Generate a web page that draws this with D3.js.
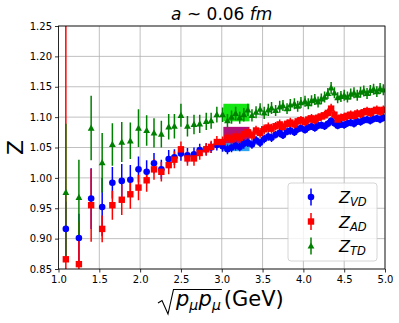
<!DOCTYPE html>
<html>
<head>
<meta charset="utf-8">
<script src="https://cdn.jsdelivr.net/npm/d3@7"></script>
<style>
  body { margin: 0; background: #fff; }
  text { font-family: "DejaVu Sans", sans-serif; }
</style>
</head>
<body>
<div class="chart"></div>
<script>
// Momentum values sqrt(p_mu p_mu) in GeV
var momenta = [1.09, 1.25, 1.40, 1.535, 1.66, 1.775, 1.88, 1.98, 2.08, 2.17, 2.26, 2.35, 2.42, 2.50, 2.58, 2.66, 2.73, 2.81, 2.87, 2.94, 3.01, 3.07,
  3.12, 3.17, 3.22, 3.27, 3.32, 3.37, 3.42, 3.47, 3.52, 3.57,
  3.61, 3.66, 3.71, 3.75, 3.80, 3.84, 3.89, 3.93, 3.97, 4.02,
  4.06, 4.10, 4.14, 4.18, 4.22, 4.26, 4.30, 4.34, 4.38, 4.42,
  4.46, 4.50, 4.54, 4.58, 4.62, 4.66, 4.70, 4.74, 4.78, 4.82,
  4.86, 4.90, 4.94, 4.98];

var zVD = [0.916, 0.901, 0.966, 0.952, 0.992, 0.995, 0.997, 1.014, 1.010, 1.024, 1.014, 1.031, 1.034, 1.040, 1.037, 1.039, 1.046, 1.047, 1.050, 1.054, 1.052, 1.047,
  1.050, 1.053, 1.051, 1.056, 1.058, 1.055, 1.062, 1.058, 1.064, 1.068,
  1.066, 1.071, 1.074, 1.070, 1.076, 1.078, 1.075, 1.080, 1.082, 1.079,
  1.083, 1.085, 1.082, 1.086, 1.087, 1.085, 1.089, 1.094, 1.090, 1.086,
  1.088, 1.087, 1.090, 1.091, 1.089, 1.093, 1.092, 1.095, 1.096, 1.094,
  1.097, 1.098, 1.096, 1.099];
var zVDerr = [0.045, 0.040, 0.050, 0.048, 0.026, 0.028, 0.024, 0.021, 0.019, 0.017, 0.016, 0.015, 0.013, 0.012, 0.012, 0.011, 0.010, 0.010, 0.009, 0.009, 0.009, 0.008,
  0.008, 0.008, 0.007, 0.008, 0.007, 0.007, 0.007, 0.007, 0.007, 0.007,
  0.007, 0.006, 0.007, 0.006, 0.006, 0.007, 0.006, 0.006, 0.006, 0.006,
  0.006, 0.006, 0.006, 0.006, 0.006, 0.006, 0.006, 0.006, 0.006, 0.006,
  0.006, 0.006, 0.006, 0.006, 0.006, 0.006, 0.006, 0.006, 0.006, 0.006,
  0.006, 0.006, 0.006, 0.006];

var zAD = [0.866, 0.858, 0.955, 0.916, 0.955, 0.964, 0.973, 0.984, 0.996, 1.014, 1.010, 1.021, 1.030, 1.047, 1.032, 1.032, 1.041, 1.047, 1.051, 1.059, 1.059, 1.066,
  1.064, 1.068, 1.066, 1.072, 1.075, 1.070, 1.078, 1.074, 1.080, 1.083,
  1.081, 1.085, 1.088, 1.084, 1.089, 1.091, 1.088, 1.093, 1.095, 1.092,
  1.096, 1.098, 1.095, 1.099, 1.101, 1.103, 1.107, 1.114, 1.104, 1.096,
  1.099, 1.100, 1.102, 1.104, 1.102, 1.106, 1.105, 1.108, 1.110, 1.107,
  1.110, 1.112, 1.109, 1.112];
var zADerr = [0.400, 0.070, 0.060, 0.022, 0.024, 0.025, 0.024, 0.021, 0.019, 0.017, 0.016, 0.015, 0.014, 0.013, 0.012, 0.012, 0.011, 0.010, 0.010, 0.010, 0.009, 0.009,
  0.009, 0.009, 0.008, 0.009, 0.008, 0.008, 0.008, 0.008, 0.008, 0.008,
  0.008, 0.007, 0.008, 0.007, 0.007, 0.008, 0.007, 0.007, 0.007, 0.007,
  0.007, 0.007, 0.007, 0.007, 0.007, 0.007, 0.007, 0.008, 0.007, 0.007,
  0.007, 0.007, 0.007, 0.007, 0.007, 0.007, 0.007, 0.007, 0.007, 0.007,
  0.007, 0.007, 0.007, 0.007];

var zTD = [0.976, 0.968, 1.082, 1.025, 1.055, 1.059, 1.061, 1.082, 1.078, 1.074, 1.072, 1.084, 1.085, 1.103, 1.085, 1.088, 1.089, 1.093, 1.094, 1.104, 1.104, 1.094,
  1.100, 1.106, 1.099, 1.104, 1.112, 1.103, 1.108, 1.113, 1.107, 1.112,
  1.115, 1.111, 1.117, 1.119, 1.114, 1.120, 1.122, 1.118, 1.124, 1.126,
  1.122, 1.127, 1.129, 1.125, 1.130, 1.133, 1.139, 1.148, 1.140, 1.132,
  1.134, 1.136, 1.133, 1.138, 1.140, 1.136, 1.141, 1.143, 1.139, 1.144,
  1.146, 1.142, 1.147, 1.145];
var zTDerr = [0.113, 0.062, 0.053, 0.049, 0.035, 0.033, 0.030, 0.031, 0.025, 0.024, 0.022, 0.021, 0.020, 0.019, 0.017, 0.016, 0.015, 0.014, 0.013, 0.013, 0.012, 0.011,
  0.011, 0.011, 0.010, 0.011, 0.010, 0.010, 0.010, 0.010, 0.010, 0.010,
  0.010, 0.009, 0.010, 0.009, 0.009, 0.010, 0.009, 0.009, 0.009, 0.009,
  0.009, 0.009, 0.009, 0.009, 0.009, 0.009, 0.009, 0.010, 0.009, 0.009,
  0.009, 0.009, 0.009, 0.009, 0.009, 0.009, 0.009, 0.009, 0.009, 0.009,
  0.009, 0.009, 0.009, 0.009];

// fit window bands (x range, then low/high per Z)
var bandX = [3.02, 3.34];
var bandVD = [1.044, 1.062];
var bandAD = [1.057, 1.084];
var bandTD = [1.093, 1.122];

var xTicks = [1.0, 1.5, 2.0, 2.5, 3.0, 3.5, 4.0, 4.5, 5.0];
var yTicks = [0.85, 0.90, 0.95, 1.00, 1.05, 1.10, 1.15, 1.20, 1.25];
var legendLabels = ["VD", "AD", "TD"];

var svgWidth = 399;
var svgHeight = 323;
var plot = { left: 58.5, right: 385, top: 26, bottom: 269 };

var svg = d3.select(".chart")
  .append("svg")
  .attr("width", svgWidth)
  .attr("height", svgHeight);

var x = d3.scaleLinear().domain([1.0, 5.0]).range([plot.left, plot.right]);
var y = d3.scaleLinear().domain([0.85, 1.25]).range([plot.bottom, plot.top]);

svg.append("clipPath").attr("id", "clip")
  .append("rect")
  .attr("x", plot.left).attr("y", plot.top)
  .attr("width", plot.right - plot.left).attr("height", plot.bottom - plot.top);

// grid
var grid = svg.append("g").attr("stroke", "#b0b0b0").attr("stroke-width", 0.8);
xTicks.forEach(t => grid.append("line")
  .attr("x1", x(t)).attr("x2", x(t)).attr("y1", plot.top).attr("y2", plot.bottom));
yTicks.forEach(t => grid.append("line")
  .attr("x1", plot.left).attr("x2", plot.right).attr("y1", y(t)).attr("y2", y(t)));

var inner = svg.append("g").attr("clip-path", "url(#clip)");

// bands
function band(yr, color) {
  inner.append("rect")
    .attr("x", x(bandX[0])).attr("width", x(bandX[1]) - x(bandX[0]))
    .attr("y", y(yr[1])).attr("height", y(yr[0]) - y(yr[1]))
    .attr("fill", color);
}
band(bandVD, "#2ea6ee");
band(bandAD, "#b0107c");
band(bandTD, "#14e614");

var series = [
  { vals: zVD, errs: zVDerr, color: "#0000ff", shape: "circle" },
  { vals: zAD, errs: zADerr, color: "#ff0000", shape: "square" },
  { vals: zTD, errs: zTDerr, color: "#008000", shape: "triangle" }
];

// error bars first (under all markers)
series.forEach(s => {
  inner.append("g").selectAll("line")
    .data(momenta)
    .enter()
    .append("line")
    .attr("x1", d => x(d)).attr("x2", d => x(d))
    .attr("y1", (d, i) => y(s.vals[i] - s.errs[i]))
    .attr("y2", (d, i) => y(s.vals[i] + s.errs[i]))
    .attr("stroke", s.color)
    .attr("stroke-width", 1.5);
});

function marker(g, shape, cx, cy, color) {
  if (shape === "circle") {
    g.append("circle").attr("cx", cx).attr("cy", cy).attr("r", 3.3).attr("fill", color);
  } else if (shape === "square") {
    g.append("rect").attr("x", cx - 3.2).attr("y", cy - 3.2).attr("width", 6.4).attr("height", 6.4).attr("fill", color);
  } else {
    g.append("path").attr("d", `M${cx},${cy - 3.6}L${cx + 3.4},${cy + 2.6}L${cx - 3.4},${cy + 2.6}Z`).attr("fill", color);
  }
}

series.forEach(s => {
  var g = inner.append("g");
  momenta.forEach((d, i) => marker(g, s.shape, x(d), y(s.vals[i]), s.color));
});

// frame
svg.append("rect")
  .attr("x", plot.left).attr("y", plot.top)
  .attr("width", plot.right - plot.left).attr("height", plot.bottom - plot.top)
  .attr("fill", "none").attr("stroke", "#000").attr("stroke-width", 0.8);

// axes
var xAxis = d3.axisBottom(x).tickValues(xTicks).tickFormat(d3.format(".1f")).tickSize(3.5).tickPadding(3);
var yAxis = d3.axisLeft(y).tickValues(yTicks).tickFormat(d3.format(".2f")).tickSize(3.5).tickPadding(3);
var gx = svg.append("g").attr("transform", `translate(0, ${plot.bottom})`).call(xAxis);
var gy = svg.append("g").attr("transform", `translate(${plot.left}, 0)`).call(yAxis);
[gx, gy].forEach(g => {
  g.select(".domain").remove();
  g.selectAll("text").attr("font-family", "DejaVu Sans").attr("font-size", "10px").attr("fill", "#000");
  g.selectAll("line").attr("stroke", "#000").attr("stroke-width", 0.8);
});

// title
var title = svg.append("text")
  .attr("x", (plot.left + plot.right) / 2).attr("y", 20)
  .attr("text-anchor", "middle").attr("font-size", "17px");
title.append("tspan").attr("font-style", "italic").text("a");
title.append("tspan").text(" ~ 0.06 ");
title.append("tspan").attr("font-style", "italic").text("fm");

// y label
svg.append("text")
  .attr("transform", `translate(23, ${(plot.top + plot.bottom) / 2}) rotate(-90)`)
  .attr("text-anchor", "middle").attr("font-size", "22px")
  .text("Z");

// x label: sqrt(p_mu p_mu)(GeV)
var xl = svg.append("g");
var pStart = 176;
var pp = xl.append("text").attr("x", pStart).attr("y", 306).attr("font-size", "21px");
[0, 1].forEach(() => {
  pp.append("tspan").attr("font-style", "italic").attr("dy", 0).text("p");
  pp.append("tspan").attr("font-style", "italic").attr("font-size", "14px").attr("dy", 4).text("μ");
  pp.append("tspan").attr("font-size", "1px").attr("dy", -4).text(" ");
});
var ppW = pp.node().getComputedTextLength();
var ovEnd = pStart + ppW + 1;
xl.append("path")
  .attr("d", `M158,303L162,300.5L168,314L173.5,289.5L${ovEnd},289.5`)
  .attr("fill", "none").attr("stroke", "#000").attr("stroke-width", 1.1);
xl.append("text").attr("x", ovEnd + 2).attr("y", 306).attr("font-size", "21px").text("(GeV)");

// legend
var lg = svg.append("g");
lg.append("rect")
  .attr("x", 288).attr("y", 183).attr("width", 89).attr("height", 78)
  .attr("rx", 3)
  .attr("fill", "#fff").attr("fill-opacity", 0.8)
  .attr("stroke", "#cccccc").attr("stroke-width", 0.8);
series.forEach((s, i) => {
  var cy = 197 + i * 24.5;
  lg.append("line").attr("x1", 311).attr("x2", 311).attr("y1", cy - 8.5).attr("y2", cy + 8.5)
    .attr("stroke", s.color).attr("stroke-width", 1.5);
  marker(lg, s.shape, 311, cy, s.color);
  var t = lg.append("text").attr("x", 339).attr("y", cy + 6).attr("font-size", "16px");
  t.append("tspan").attr("font-style", "italic").text("Z");
  t.append("tspan").attr("font-style", "italic").attr("font-size", "11.5px").attr("dy", 3).text(legendLabels[i]);
});
</script>
</body>
</html>
